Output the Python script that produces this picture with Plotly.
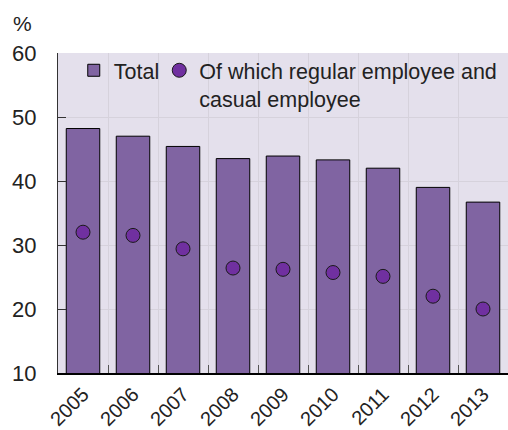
import plotly.graph_objects as go

years = ["2005", "2006", "2007", "2008", "2009", "2010", "2011", "2012", "2013"]
total = [48.2, 47.0, 45.4, 43.5, 43.9, 43.3, 42.0, 39.0, 36.7]
regular_casual = [32.0, 31.5, 29.4, 26.4, 26.2, 25.7, 25.1, 22.0, 20.0]

FONT = "Liberation Sans, Arial, sans-serif"

fig = go.Figure()
fig.add_trace(go.Bar(
    x=years, y=total, name="Total",
    marker=dict(color="#8064A2", line=dict(color="#000000", width=1)),
    width=0.67, legend="legend",
))
fig.add_trace(go.Scatter(
    x=years, y=regular_casual, mode="markers",
    name="Of which regular employee and<br>casual employee",
    marker=dict(color="#7030A0", size=14, line=dict(color="#1a1a1a", width=1)),
    legend="legend2",
))

leg_common = dict(
    orientation="v", yanchor="top", xanchor="left",
    bgcolor="rgba(0,0,0,0)", font=dict(size=21.5, color="#222222"), valign="top",
)

fig.update_layout(
    width=508, height=430,
    margin=dict(l=58, r=0, t=53, b=57, autoexpand=False),
    paper_bgcolor="white",
    plot_bgcolor="#E4E0EC",
    font=dict(family=FONT, size=22, color="#222222"),
    showlegend=True,
    legend=dict(x=0.035, y=1.01, **leg_common),
    legend2=dict(x=0.225, y=1.01, **leg_common),
    xaxis=dict(
        type="category", tickson="boundaries", ticks="inside", ticklen=8,
        tickcolor="#555555", tickangle=-45, showline=True, linecolor="#000000",
        linewidth=1.5, showgrid=True, gridcolor="#D6D2DC", gridwidth=1,
        tickfont=dict(size=20), range=[-0.5, 8.5], automargin=False,
    ),
    yaxis=dict(
        range=[10, 60], dtick=10, ticks="inside", ticklen=8, tickcolor="#333333",
        showline=True, linecolor="#333333", linewidth=1,
        showgrid=True, gridcolor="#D6D2DC", gridwidth=1,
        tickfont=dict(size=22), ticklabelstandoff=16, zeroline=False,
        automargin=False,
    ),
    annotations=[dict(
        text="%", xref="paper", yref="paper", x=-0.08, y=1.0, xanchor="center",
        yanchor="bottom", yshift=16, showarrow=False, font=dict(size=21),
    )],
)

fig.write_html("out.html")
